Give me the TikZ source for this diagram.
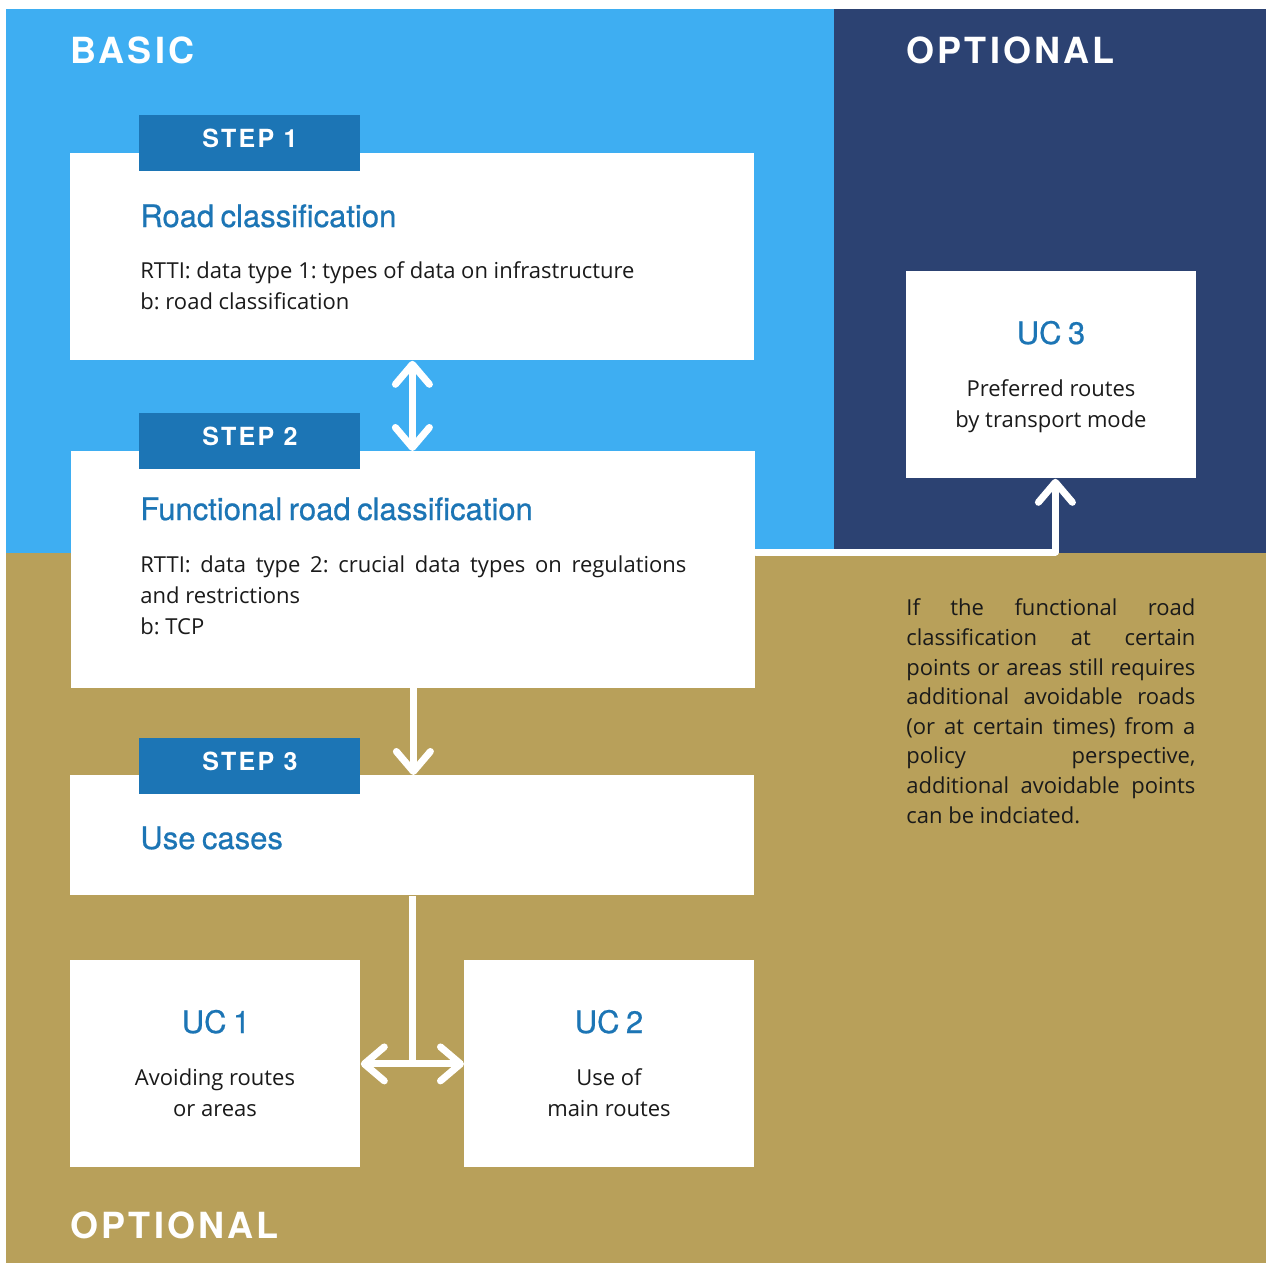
\documentclass[tikz,border=0pt]{standalone}
\usepackage{fontspec}
\setmainfont{Open Sans}
\newfontfamily\headfont{TeX Gyre Heros}[LetterSpace=9]
\newfontfamily\titlefont{TeX Gyre Heros}[FakeBold=0.6,WordSpace=0.75]
\usetikzlibrary{arrows.meta,calc}
\definecolor{lblue}{HTML}{3EAEF2}
\definecolor{navy}{HTML}{2C4272}
\definecolor{gold}{HTML}{B8A05A}
\definecolor{tabblue}{HTML}{1C75B5}
\definecolor{ink}{HTML}{1A1A1A}
\frenchspacing
\begin{document}
\begin{tikzpicture}[x=0.5pt,y=-0.5pt,
  box/.style={fill=white,draw=none,inner sep=0pt,minimum width=#1},
  tab/.style={fill=tabblue,inner sep=0pt,minimum width=110.5pt,minimum height=28pt,
    text depth=5pt,
    text=white,font=\headfont\bfseries\fontsize{12.5}{14}\selectfont},
  zone/.style={text=white,font=\headfont\bfseries\fontsize{18}{20}\selectfont,anchor=base west,inner sep=0pt},
  ttl/.style={text=tabblue,font=\titlefont\fontsize{15.5}{18}\selectfont,inner sep=0pt},
  body/.style={text=ink,font=\fontsize{11}{15.5}\selectfont,inner sep=0pt},
  arr/.style={draw=white,line width=3.5pt,line cap=round,line join=round,
    arrows={-Straight Barb[length=10pt,width=17pt,line cap=round,round]}},
  darr/.style={draw=white,line width=3.5pt,line cap=round,line join=round,
    arrows={Straight Barb[length=10pt,width=17pt,line cap=round,round]-Straight Barb[length=10pt,width=17pt,line cap=round,round]}},
  ln/.style={draw=white,line width=3.5pt}]
\useasboundingbox (0,0) rectangle (1266,1265);
% zones
\fill[lblue] (6,9) rectangle (834,553);
\fill[navy] (834,9) rectangle (1266,553);
\fill[gold] (6,553) rectangle (1266,1263);
\node[zone] (basic) at (70,63) {BASIC};
\node[zone] (opt1) at (906,63) {OPTIONAL};
\node[zone] (opt2) at (70,1238) {OPTIONAL};
% boxes
\node[box=342pt,minimum height=103.5pt,anchor=north west] (box1) at (70,153) {};
\node[box=342pt,minimum height=118.5pt,anchor=north west] (box2) at (71,451) {};
\node[box=342pt,minimum height=60pt,anchor=north west] (box3) at (70,775) {};
\node[box=145pt,minimum height=103.5pt,anchor=north west] (uc1) at (70,960) {};
\node[box=145pt,minimum height=103.5pt,anchor=north west] (uc2) at (464,960) {};
\node[box=145pt,minimum height=103.5pt,anchor=north west] (uc3) at (906,271) {};
% tabs
\node[tab,anchor=north west] (tab1) at (139,115) {STEP 1};
\node[tab,anchor=north west] (tab2) at (139,413) {STEP 2};
\node[tab,anchor=north west] (tab3) at (139,738) {STEP 3};
% titles
\node[ttl,anchor=base west] (t1) at (140,227) {Road classification};
\node[ttl,anchor=base west] (t2) at (140,520) {Functional road classification};
\node[ttl,anchor=base west] (t3) at (140,849) {Use cases};
\node[ttl,anchor=base] (tu1) at (216,1033) {UC 1};
\node[ttl,anchor=base] (tu2) at (609,1033) {UC 2};
\node[ttl,anchor=base] (tu3) at (1051,344) {UC 3};
% body texts (anchored at the baseline of their last line)
\node[body,anchor=base west,align=left] (b1) at (140,309)
  {RTTI: data type 1: types of data on infrastructure\\b: road classification};
\node[body,anchor=base west,align=left] (b2) at (140,634)
  {\makebox[273pt][s]{RTTI: data type 2: crucial data types on regulations}\\and restrictions\\b: TCP};
\node[body,anchor=base,align=center] (bu1) at (215,1116) {Avoiding routes\\or areas};
\node[body,anchor=base,align=center] (bu2) at (609,1116) {Use of\\main routes};
\node[body,anchor=base,align=center] (bu3) at (1051,427) {Preferred routes\\by transport mode};
\node[body,anchor=base west,align=left,font=\fontsize{11}{14.8}\selectfont] (note) at (906,823)
  {\makebox[144.5pt][s]{If the functional road}\\
   \makebox[144.5pt][s]{classification at certain}\\
   \makebox[144.5pt][s]{points or areas still requires}\\
   \makebox[144.5pt][s]{additional avoidable roads}\\
   \makebox[144.5pt][s]{(or at certain times) from a}\\
   \makebox[144.5pt][s]{policy perspective,}\\
   \makebox[144.5pt][s]{additional avoidable points}\\
   can be indciated.};
% connectors
\coordinate (conn) at (0,552);
\draw[darr] (box1.south) -- (box1.south |- box2.north);
\draw[arr] (box2.south) -- (box2.south |- box3.north);
\draw[ln] (box3.south) -- (box3.south |- uc1.east);
\draw[darr] (uc1.east) -- (uc2.west);
\draw[arr] (box2.east |- conn) -- ($(uc3.south |- conn)+(4,0)$) -- ($(uc3.south)+(4,0)$);
\end{tikzpicture}
\end{document}
